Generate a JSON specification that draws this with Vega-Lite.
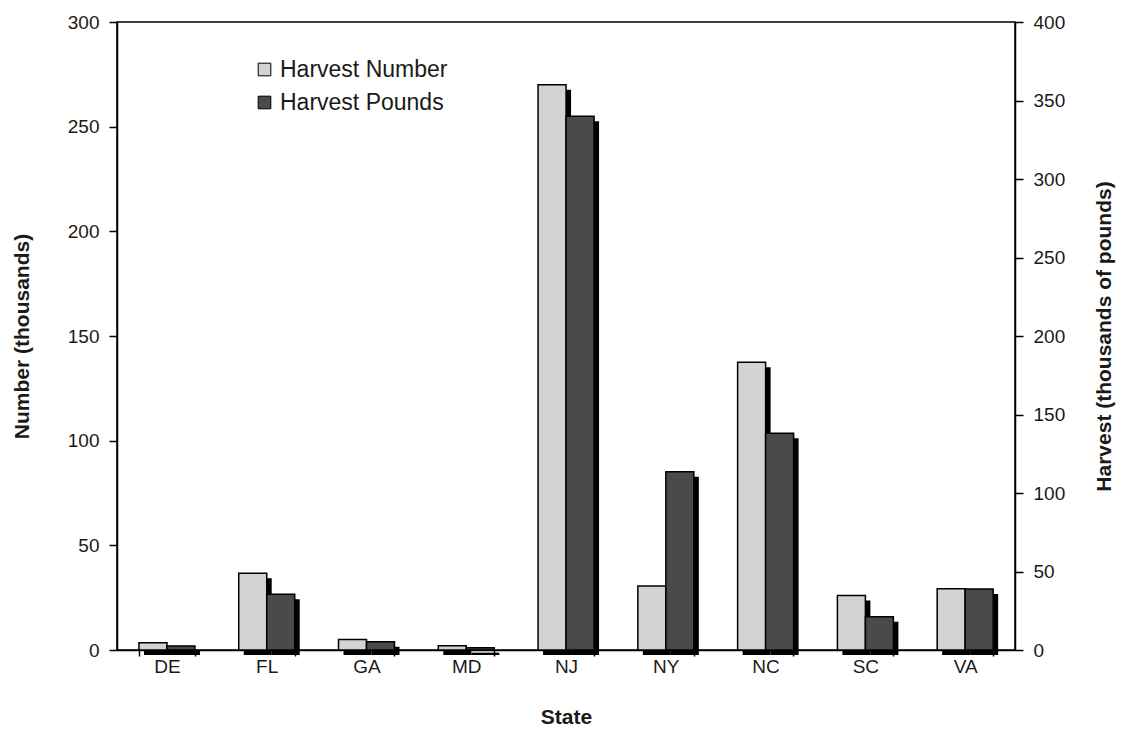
{
  "$schema": "https://vega.github.io/schema/vega-lite/v6.json",
  "autosize": {"type": "none"},
  "padding": {"left": 117, "top": 22, "right": 107, "bottom": 79},
  "width": 898,
  "height": 628,
  "background": "white",
  "config": {
    "font": "Liberation Sans",
    "view": {"stroke": "black", "strokeWidth": 1.5},
    "axis": {
      "domainColor": "black", "domainWidth": 1.5,
      "tickColor": "black", "tickWidth": 1.5, "tickSize": 8,
      "labelFont": "Liberation Sans", "labelFontSize": 19, "labelColor": "#1a1a1a",
      "titleFont": "Liberation Sans", "titleFontSize": 21, "titleFontWeight": "bold", "titleColor": "#1a1a1a",
      "grid": false
    }
  },
  "data": {
    "values": [
      {"State": "DE", "Series": "Harvest Number", "Value": 3.5},
      {"State": "FL", "Series": "Harvest Number", "Value": 36.7},
      {"State": "GA", "Series": "Harvest Number", "Value": 5},
      {"State": "MD", "Series": "Harvest Number", "Value": 2},
      {"State": "NJ", "Series": "Harvest Number", "Value": 270},
      {"State": "NY", "Series": "Harvest Number", "Value": 30.6},
      {"State": "NC", "Series": "Harvest Number", "Value": 137.5},
      {"State": "SC", "Series": "Harvest Number", "Value": 26},
      {"State": "VA", "Series": "Harvest Number", "Value": 29.2},
      {"State": "DE", "Series": "Harvest Pounds", "Value": 2.6},
      {"State": "FL", "Series": "Harvest Pounds", "Value": 35.5},
      {"State": "GA", "Series": "Harvest Pounds", "Value": 5.3},
      {"State": "MD", "Series": "Harvest Pounds", "Value": 1.5},
      {"State": "NJ", "Series": "Harvest Pounds", "Value": 340},
      {"State": "NY", "Series": "Harvest Pounds", "Value": 113.6},
      {"State": "NC", "Series": "Harvest Pounds", "Value": 138},
      {"State": "SC", "Series": "Harvest Pounds", "Value": 21.2},
      {"State": "VA", "Series": "Harvest Pounds", "Value": 38.9}
    ]
  },
  "encoding": {
    "x": {
      "field": "State", "type": "nominal", "sort": null,
      "scale": {"paddingInner": 0.44, "paddingOuter": 0.22},
      "axis": {"title": "State", "labelAngle": 0, "tickBand": "extent", "tickSize": 6, "labelPadding": 1, "titlePadding": 30}
    }
  },
  "layer": [
    {
      "transform": [{"filter": "datum.Series === 'Harvest Number'"}],
      "mark": {"type": "bar", "color": "black", "yOffset": 5, "y2Offset": 3},
      "encoding": {
        "xOffset": {"field": "Series", "type": "nominal", "scale": {"domain": ["Harvest Number", "Harvest Pounds"], "range": [5, 61], "paddingInner": 0, "paddingOuter": 0}},
        "y": {"field": "Value", "type": "quantitative", "scale": {"domain": [0, 300], "nice": false}, "axis": null}
      }
    },
    {
      "transform": [{"filter": "datum.Series === 'Harvest Number'"}],
      "mark": {"type": "bar", "stroke": "black", "strokeWidth": 1.5},
      "encoding": {
        "xOffset": {"field": "Series", "type": "nominal", "scale": {"domain": ["Harvest Number", "Harvest Pounds"], "range": [0, 56], "paddingInner": 0, "paddingOuter": 0}},
        "y": {
          "field": "Value", "type": "quantitative",
          "scale": {"domain": [0, 300], "nice": false},
          "axis": {"title": "Number (thousands)", "orient": "left", "values": [0, 50, 100, 150, 200, 250, 300], "labelPadding": 10, "titlePadding": 35}
        },
        "color": {
          "field": "Series", "type": "nominal",
          "scale": {"domain": ["Harvest Number", "Harvest Pounds"], "range": ["#d3d3d3", "#4a4a4a"]},
          "legend": {
            "title": null, "orient": "none", "legendX": 136, "legendY": 36,
            "symbolType": "square", "symbolSize": 160, "symbolStrokeColor": "black", "symbolStrokeWidth": 1,
            "labelFont": "Liberation Sans", "labelFontSize": 23, "labelColor": "#1a1a1a", "labelLimit": 400,
            "rowPadding": 9, "labelOffset": 4
          }
        }
      }
    },
    {
      "transform": [{"filter": "datum.Series === 'Harvest Pounds'"}],
      "mark": {"type": "bar", "color": "black", "yOffset": 5, "y2Offset": 3},
      "encoding": {
        "xOffset": {"field": "Series", "type": "nominal", "scale": {"domain": ["Harvest Number", "Harvest Pounds"], "range": [5, 61], "paddingInner": 0, "paddingOuter": 0}},
        "y": {"field": "Value", "type": "quantitative", "scale": {"domain": [0, 400], "nice": false}, "axis": null}
      }
    },
    {
      "transform": [{"filter": "datum.Series === 'Harvest Pounds'"}],
      "mark": {"type": "bar", "stroke": "black", "strokeWidth": 1.5},
      "encoding": {
        "xOffset": {"field": "Series", "type": "nominal", "scale": {"domain": ["Harvest Number", "Harvest Pounds"], "range": [0, 56], "paddingInner": 0, "paddingOuter": 0}},
        "y": {
          "field": "Value", "type": "quantitative",
          "scale": {"domain": [0, 400], "nice": false},
          "axis": {"title": "Harvest (thousands of pounds)", "orient": "right", "values": [0, 50, 100, 150, 200, 250, 300, 350, 400], "labelPadding": 10, "titlePadding": 29, "titleAngle": 270, "titleBaseline": "top"}
        },
        "color": {"field": "Series", "type": "nominal"}
      }
    }
  ],
  "resolve": {"scale": {"y": "independent", "xOffset": "independent"}}
}
